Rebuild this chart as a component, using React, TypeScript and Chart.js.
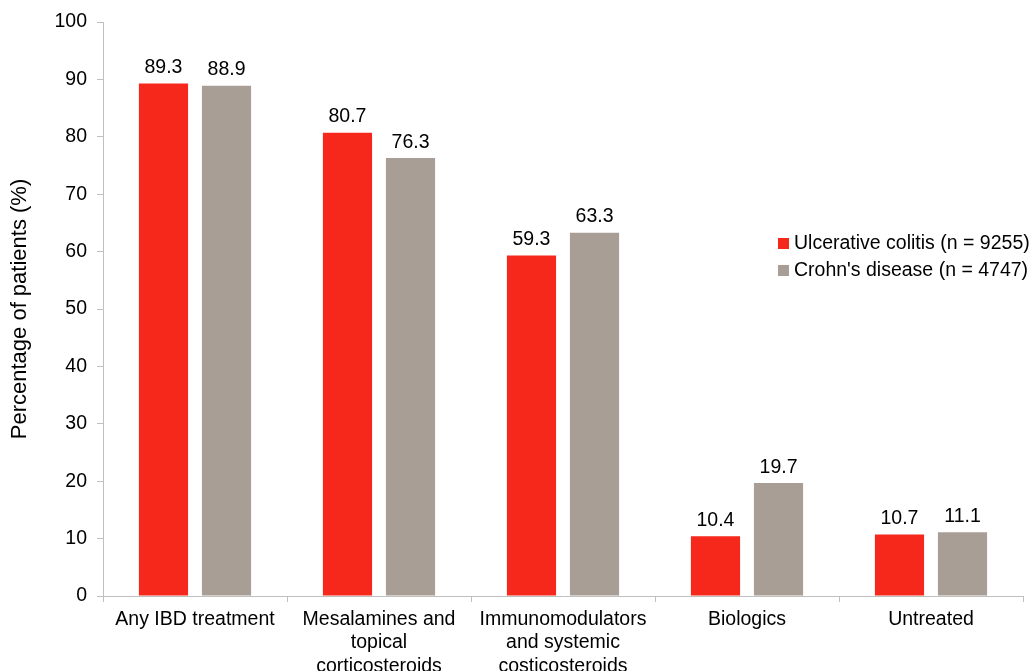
import React, { useEffect, useRef } from "react";
import { Chart, registerables } from "chart.js";

Chart.register(...registerables);

const categories: string[][] = [
  ["Any IBD treatment"],
  ["Mesalamines and", "topical", "corticosteroids"],
  ["Immunomodulators", "and systemic", "costicosteroids"],
  ["Biologics"],
  ["Untreated"],
];
const ucLabel = "Ulcerative colitis (n = 9255)";
const cdLabel = "Crohn's disease (n = 4747)";
const ucValues = [89.3, 80.7, 59.3, 10.4, 10.7];
const cdValues = [88.9, 76.3, 63.3, 19.7, 11.1];
const yTicks = [0, 10, 20, 30, 40, 50, 60, 70, 80, 90, 100];

const RED = "#F6271B";
const GRAY = "#A99E96";
const FONT = "'Liberation Sans', Arial, sans-serif";
const FS = 19.5;

const valueLabels = {
  id: "valueLabels",
  afterDatasetsDraw(chart: any) {
    const ctx = chart.ctx;
    ctx.save();
    ctx.font = `${FS}px ${FONT}`;
    ctx.fillStyle = "#000";
    ctx.textAlign = "center";
    ctx.textBaseline = "bottom";
    chart.data.datasets.forEach((ds: any, i: number) => {
      const meta = chart.getDatasetMeta(i);
      meta.data.forEach((bar: any, j: number) => {
        ctx.fillText(ds.data[j].toFixed(1), bar.x, bar.y - 6);
      });
    });
    ctx.restore();
  },
};

const customLegend = {
  id: "customLegend",
  afterDraw(chart: any) {
    const ctx = chart.ctx;
    ctx.save();
    ctx.font = `${FS}px ${FONT}`;
    ctx.textBaseline = "middle";
    ctx.textAlign = "left";
    const items = [
      { label: ucLabel, color: RED, y: 244 },
      { label: cdLabel, color: GRAY, y: 271 },
    ];
    items.forEach((it) => {
      ctx.fillStyle = it.color;
      ctx.fillRect(778, it.y - 6, 11, 11);
      ctx.fillStyle = "#000";
      ctx.fillText(it.label, 794, it.y);
    });
    ctx.restore();
  },
};

export default function App() {
  const ref = useRef<HTMLCanvasElement>(null);
  useEffect(() => {
    document.body.style.margin = "0";
    const chart = new Chart(ref.current!, {
      type: "bar",
      data: {
        labels: categories,
        datasets: [
          { label: ucLabel, data: ucValues, backgroundColor: RED, barPercentage: 0.78, categoryPercentage: 0.685 },
          { label: cdLabel, data: cdValues, backgroundColor: GRAY, barPercentage: 0.78, categoryPercentage: 0.685 },
        ],
      },
      options: {
        animation: false,
        responsive: false,
        layout: { padding: { top: 22, right: 7, left: 0, bottom: 0 } },
        plugins: { legend: { display: false }, tooltip: { enabled: false } },
        scales: {
          x: {
            grid: { offset: true, drawOnChartArea: false, color: "#BFBFBF", tickLength: 6 },
            border: { color: "#BFBFBF" },
            ticks: { color: "#000", font: { family: FONT, size: FS }, padding: 6, maxRotation: 0, autoSkip: false },
            afterFit(scale: any) {
              scale.height = 75;
            },
          },
          y: {
            min: 0,
            max: 100,
            afterBuildTicks(scale: any) {
              scale.ticks = yTicks.map((v) => ({ value: v }));
            },
            grid: { drawOnChartArea: false, color: "#BFBFBF", tickLength: 6 },
            border: { color: "#BFBFBF" },
            ticks: { color: "#000", font: { family: FONT, size: FS }, padding: 10 },
            title: {
              display: true,
              text: "Percentage of patients (%)",
              color: "#000",
              font: { family: FONT, size: 22 },
              padding: { top: 7, bottom: 0 },
            },
            afterFit(scale: any) {
              scale.width = 103;
            },
          },
        },
      },
      plugins: [valueLabels, customLegend],
    });
    return () => chart.destroy();
  }, []);
  return <canvas ref={ref} width={1030} height={671} style={{ display: "block" }} />;
}
